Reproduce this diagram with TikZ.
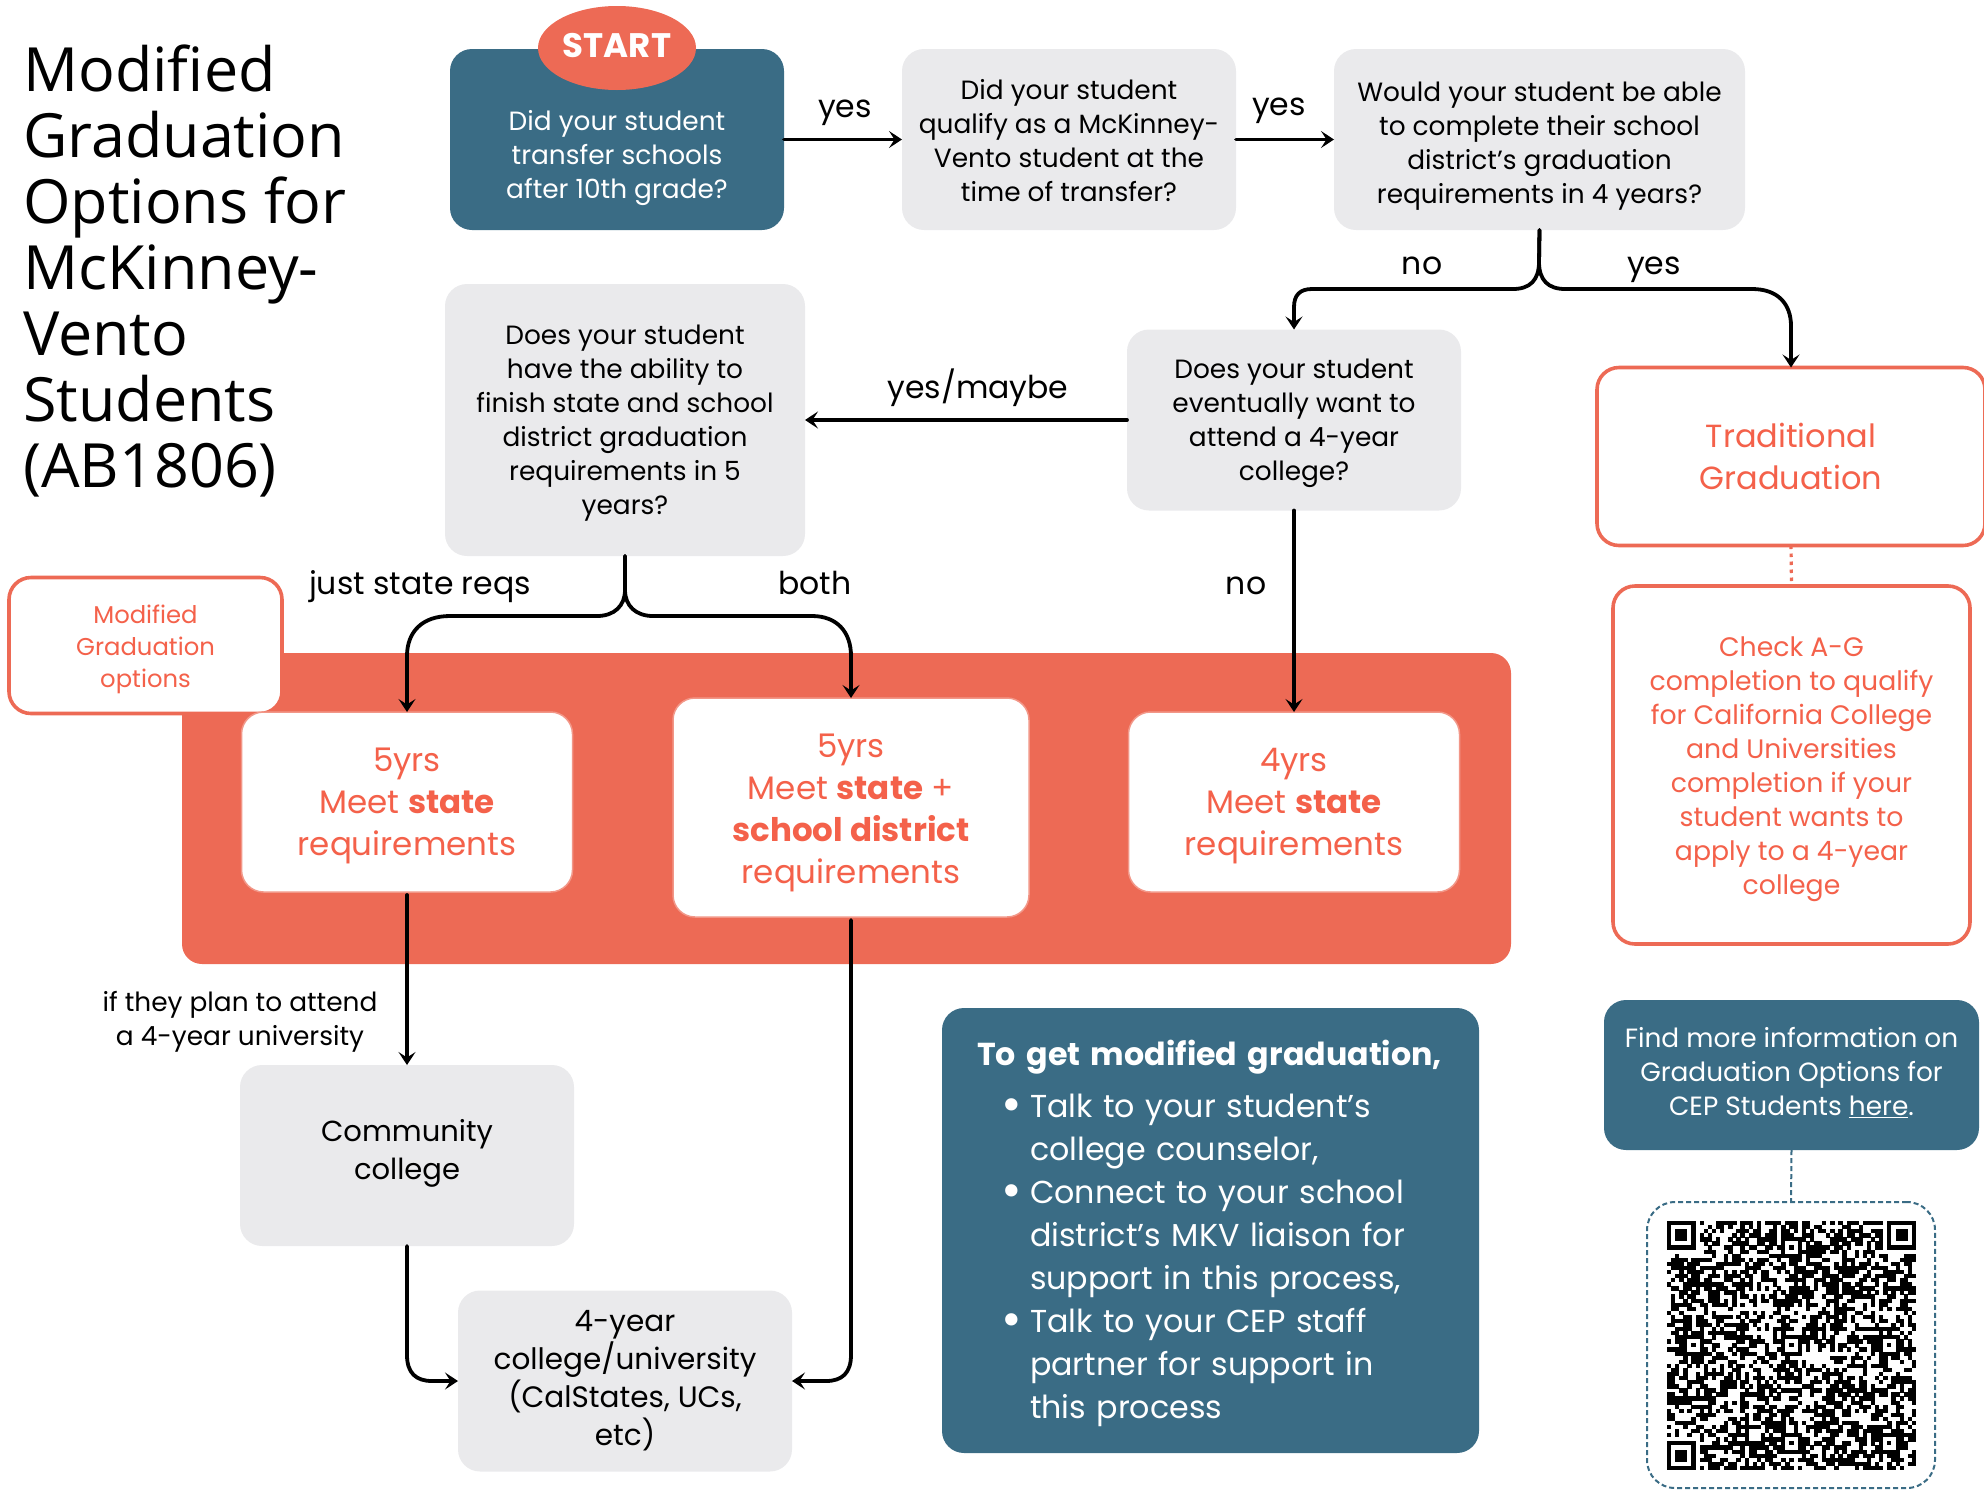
\documentclass[tikz,border=0pt]{standalone}
\usepackage{fontspec}
\setmainfont{Poppins}
\newfontfamily\titlefont{Open Sans}
\usetikzlibrary{arrows.meta,shapes.geometric}
\definecolor{coral}{HTML}{ED6A55}
\definecolor{ctext}{HTML}{F4614A}
\definecolor{teal}{HTML}{3A6C85}
\definecolor{pale}{HTML}{EAEAEC}
\newcommand{\fs}[2]{\fontsize{#1}{#2}\selectfont}
\newcommand{\T}[1]{\rule{0pt}{#1pt}}
\newcommand{\B}{\rule[-20pt]{0pt}{20pt}}
\newcommand{\blt}{\llap{\raisebox{-4.5pt}{\fontsize{50}{50}\selectfont\textbullet}\hspace{8pt}}}
\tikzset{
  x=1pt,y=-1pt,
  basebox/.style={rectangle,rounded corners=22pt,inner sep=0pt,outer sep=0pt,align=center},
  grey/.style={basebox,fill=pale,text=black,font=\fs{26.4}{34}},
  tealbox/.style={basebox,fill=teal,text=white,font=\fs{26.4}{34}},
  outline/.style={basebox,fill=white,draw=coral,line width=3.6pt,text=ctext},
  opt/.style={basebox,fill=white,draw=coral!70!white,line width=1.5pt,text=ctext,font=\fs{32.5}{42}},
  conn/.style={draw=black,line width=3.8pt,line cap=round},
  arr/.style={conn,-{Stealth[length=13pt,width=17pt,inset=5.5pt]}},
  lab/.style={inner sep=0pt,anchor=base,text=black,font=\fs{31.5}{34},align=center},
}
\begin{document}
\begin{tikzpicture}
\clip (0,0) rectangle (1984,1489);
\useasboundingbox (0,0) rectangle (1984,1489);
\node[minimum width=1329pt,minimum height=311pt,rectangle,rounded corners=20pt,fill=coral,inner sep=0pt] (band) at (846.5,808.5) {};
\node[anchor=north west,inner sep=0pt,align=left,font={\titlefont\fs{61}{66}}] (title) at (23,44.5) {Modified\\Graduation\\Options for\\McKinney-\\Vento\\Students\\(AB1806)};
\node[tealbox,minimum width=334pt,minimum height=181pt] (q1) at (617,139.5) {\T{69}Did your student\\transfer schools\\after 10th grade?\B};
\node[ellipse,fill=coral,text=white,minimum width=158pt,minimum height=84pt,inner sep=0pt,font=\fs{34}{34}\bfseries] (start) at (617,48) {\T{38}START\B};
\node[grey,minimum width=334pt,minimum height=181pt] (q2) at (1069,139.5) {\T{41}Did your student\\qualify as a McKinney-\\Vento student at the\\time of transfer?\B};
\node[grey,minimum width=411pt,minimum height=181pt] (q3) at (1539.5,139.5) {\T{45}Would your student be able\\to complete their school\\district’s graduation\\requirements in 4 years?\B};
\node[grey,minimum width=360pt,minimum height=272pt] (q5) at (625,420) {\T{38.5}Does your student\\have the ability to\\finish state and school\\district graduation\\requirements in 5\\years?\B};
\node[grey,minimum width=334pt,minimum height=181pt] (q4) at (1294,420) {\T{39.4}Does your student\\eventually want to\\attend a 4-year\\college?\B};
\node[outline,minimum width=388pt,minimum height=178pt,font=\fs{32}{42}] (trad) at (1791,456.5) {\T{44}Traditional\\Graduation\B};
\node[outline,minimum width=357pt,minimum height=358pt,font=\fs{26.7}{34}] (check) at (1791.5,765) {\T{40}Check A-G\\completion to qualify\\for California College\\and Universities\\completion if your\\student wants to\\apply to a 4-year\\college\B};
\node[outline,minimum width=273pt,minimum height=136pt,font=\fs{24.3}{32}] (modopt) at (145.5,645.5) {\T{39}Modified\\Graduation\\options\B};
\node[opt,minimum width=331pt,minimum height=180pt] (o1) at (407,802) {\T{43}5yrs\\Meet \textbf{state}\\requirements\B};
\node[opt,minimum width=356pt,minimum height=219pt] (o2) at (851,807.5) {\T{45}5yrs\\Meet \textbf{state} +\\\textbf{school district}\\requirements\B};
\node[opt,minimum width=331pt,minimum height=180pt] (o3) at (1294,802) {\T{43}4yrs\\Meet \textbf{state}\\requirements\B};
\node[grey,minimum width=334pt,minimum height=181pt,font=\fs{29}{38}] (cc) at (407,1155.5) {\T{30}Community\\college\B};
\node[grey,minimum width=334pt,minimum height=181pt,font=\fs{29.5}{38}] (uni) at (625,1381) {\T{35}4-year\\college/university\\(CalStates, UCs,\\etc)\B};
\node[tealbox,minimum width=537pt,minimum height=445pt,text width=467pt,align=left,font=\fs{31.7}{43}] (how) at (1210.5,1230.5) {\T{42}\textbf{To get modified graduation,}\\[9pt]
\hspace*{53pt}\blt Talk to your student’s\\
\hspace*{53pt}college counselor,\\
\hspace*{53pt}\blt Connect to your school\\
\hspace*{53pt}district’s MKV liaison for\\
\hspace*{53pt}support in this process,\\
\hspace*{53pt}\blt Talk to your CEP staff\\
\hspace*{53pt}partner for support in\\
\hspace*{53pt}this process\B};
\node[tealbox,minimum width=375pt,minimum height=150pt] (more) at (1791.5,1075) {\T{32.4}Find more information on\\Graduation Options for\\CEP Students \underline{here}.\B};
\node[basebox,rounded corners=28pt,minimum width=288pt,minimum height=286pt,draw=teal,dash pattern=on 5pt off 3pt,line width=2pt,fill=white] (qrframe) at (1791,1345) {};
% QR code: a visual stand-in only. Size, finder and alignment patterns follow the
% reference; the data modules are pseudo-random, so this will not scan to the original link.
\begin{scope}[shift={(1667,1221)},x=4.08pt,y=-4.08pt]
\pgfmathsetseed{1806}
\foreach \r in {0,...,60}{\foreach \c in {0,...,60}{
  \pgfmathrandominteger{\q}{0}{99}
  \ifnum\q<52 \fill[black] (\c,\r) rectangle ++(1.05,1.05);\fi
}}
\fill[white] (0,0) rectangle (8,8);
\fill[white] (53,0) rectangle (61.05,8);
\fill[white] (0,53) rectangle (8,61.05);
\foreach \cx/\cy in {0/0,54/0,0/54}{
  \fill[black] (\cx,\cy) rectangle ++(7,7);
  \fill[white] (\cx+1,\cy+1) rectangle ++(5,5);
  \fill[black] (\cx+2,\cy+2) rectangle ++(3,3);
}
\foreach \cx/\cy in {30/6,6/30,30/30,54/30,30/54,54/54}{
  \fill[black] (\cx-2,\cy-2) rectangle ++(5,5);
  \fill[white] (\cx-1,\cy-1) rectangle ++(3,3);
  \fill[black] (\cx,\cy) rectangle ++(1,1);
}
\end{scope}
% connectors
\draw[arr] (q1.east) -- (q2.west);
\draw[arr] (q2.east) -- (q3.west);
\draw[arr] (q3.south) -- (1539,262) .. controls (1539,280) and (1530,289) .. (1513,289) -- (1312,289) .. controls (1300,289) and (1294,295) .. (1294,307) -- (q4.north);
\draw[arr] (q3.south) -- (1539,262) .. controls (1539,280) and (1548,289) .. (1565,289) -- (1752,289) .. controls (1778,289) and (1791,304) .. (1791,326) -- (trad.north);
\draw[arr] (q4.west) -- (q5.east);
\draw[arr] (q5.south) -- (625,590) .. controls (625,606) and (614,616) .. (597,616) -- (450,616) .. controls (422,616) and (407,632) .. (407,656) -- (o1.north);
\draw[arr] (q5.south) -- (625,590) .. controls (625,606) and (636,616) .. (653,616) -- (812,616) .. controls (837,616) and (851,632) .. (851,656) -- (o2.north);
\draw[arr] (q4.south) -- (o3.north);
\draw[arr] ([yshift=-3pt]o1.south) -- (cc.north);
\draw[arr] (cc.south) -- (407,1355) .. controls (407,1373) and (416,1381) .. (432,1381) -- (uni.west);
\draw[arr] ([yshift=-3pt]o2.south) -- (851,1355) .. controls (851,1373) and (842,1381) .. (826,1381) -- (uni.east);
\draw[coral,line width=3.2pt,dash pattern=on 3.5pt off 4.5pt] (trad.south) -- (check.north);
\draw[teal,line width=2pt,dash pattern=on 5pt off 3pt] (more.south) -- (qrframe.north);
% labels
\node[lab] (l1) at (845,117.5) {yes};
\node[lab] (l2) at (1279,115.5) {yes};
\node[lab] (l3) at (1422,274) {no};
\node[lab] (l4) at (1654,274) {yes};
\node[lab] (l5) at (978,398) {yes/maybe};
\node[lab] (l6) at (420,594) {just state reqs};
\node[lab] (l7) at (815,594) {both};
\node[lab] (l8) at (1246,594) {no};
\node[lab,anchor=center,font=\fs{26.4}{34}] (l9) at (240,1019) {\T{39}if they plan to attend\\a 4-year university\B};
\end{tikzpicture}
\end{document}
